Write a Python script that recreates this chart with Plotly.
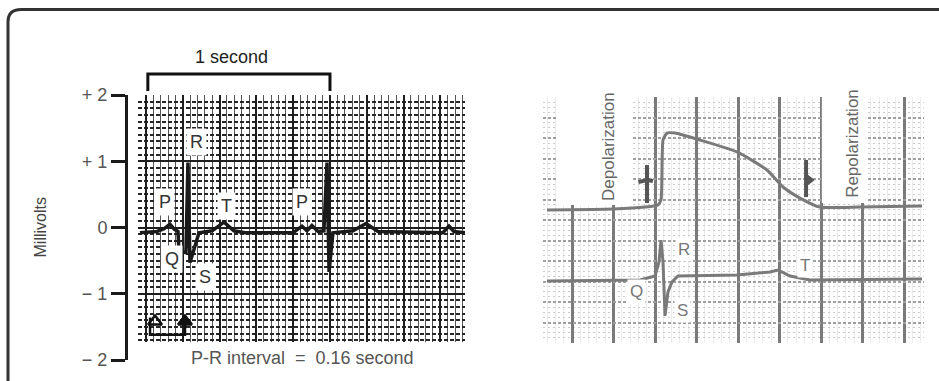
import plotly.graph_objects as go

W, H = 939, 381

# ---------- left panel: ECG strip (time in s, voltage in mV) ----------
ECG_T = [-0.033, 0.060, 0.098, 0.130, 0.152, 0.174, 0.179, 0.217, 0.228, 0.239,
         0.261, 0.288, 0.359, 0.424, 0.478, 0.538, 0.799, 0.848, 0.875, 0.902,
         0.935, 0.967, 0.984, 0.995, 1.016, 1.125, 1.196, 1.261, 1.614, 1.647,
         1.674, 1.734]
ECG_MV = [-0.08, -0.06, -0.02, 0.05, -0.02, -0.06, -0.36, -0.38, 0.98, -0.53,
          -0.33, -0.08, -0.05, 0.08, -0.05, -0.08, -0.08, 0.02, -0.05, 0.03,
          -0.06, -0.05, 0.98, -0.67, -0.08, -0.05, 0.06, -0.06, -0.08, 0.02,
          -0.06, -0.08]

WAVE_LABELS = ["P", "R", "Q", "S", "T", "P"]
WAVE_T = [0.103, 0.277, 0.141, 0.320, 0.435, 0.848]
WAVE_MV = [0.39, 1.29, -0.48, -0.74, 0.33, 0.39]

PR_MARK_T = [0.049, 0.212]
PR_MARK_MV = [-1.42, -1.42]
PR_BRACKET_T = [0.022, 0.022, 0.212, 0.212]
PR_BRACKET_MV = [-1.36, -1.62, -1.62, -1.40]

ONE_SECOND = [0.01, 1.0]

MV_TICKS = [-2, -1, 0, 1, 2]
MV_TICK_TEXT = ["\u2212 2", "\u2212 1", "0", "+ 1", "+ 2"]

# ---------- right panel: action potential over ECG (grid units) ----------
AP_X = [-0.602, 0.988, 1.759, 2.072, 2.145, 2.193, 2.289, 2.482, 3.084, 3.976,
        4.699, 5.084, 5.494, 5.976, 6.940, 8.434]
AP_Y = [6.49, 6.54, 6.63, 6.73, 6.98, 9.90, 10.24, 10.24, 9.90, 9.32,
        8.44, 7.61, 7.07, 6.63, 6.63, 6.68]

RECG_X = [-0.602, 1.639, 2.000, 2.096, 2.145, 2.193, 2.241, 2.313, 2.410, 2.554,
          3.976, 4.771, 4.964, 5.253, 5.735, 8.434]
RECG_Y = [3.02, 3.07, 3.27, 3.95, 5.02, 3.95, 1.32, 2.49, 2.98, 3.27,
          3.32, 3.46, 3.56, 3.27, 3.07, 3.12]

R_LABELS = ["R", "Q", "S", "T"]
R_LABEL_X = [2.70, 1.566, 2.67, 5.61]
R_LABEL_Y = [4.54, 2.49, 1.61, 3.80]

DEPOL_MARK_X = [1.807, 1.807, None, 1.60, 1.807, 1.95]
DEPOL_MARK_Y = [8.68, 6.83, None, 7.85, 7.95, 7.90]
REPOL_MARK_X = [5.64, 5.64, None, 5.64, 5.77, 5.64]
REPOL_MARK_Y = [8.93, 7.12, None, 8.15, 7.95, 7.75]

PHASE_LABELS = ["Depolarization", "Repolarization"]
PHASE_X = [0.867, 6.77]
PHASE_Y = [9.61, 9.76]
PHASE_BLANK_X = [[-0.386, 1.47], [6.02, 7.08]]
PHASE_BLANK_Y = [[6.73, 12.2], [6.83, 12.2]]


def px(x):
    return x / W


def py(y):
    return 1 - y / H


FONT = "Liberation Sans, Arial, sans-serif"

fig = go.Figure()

fig.add_trace(go.Scatter(x=ECG_T, y=ECG_MV, mode="lines",
                         line=dict(color="#1a1a1a", width=3.5),
                         xaxis="x", yaxis="y", hoverinfo="skip"))
fig.add_trace(go.Scatter(x=PR_BRACKET_T, y=PR_BRACKET_MV, mode="lines",
                         line=dict(color="#111", width=2.5),
                         xaxis="x", yaxis="y", hoverinfo="skip"))
fig.add_trace(go.Scatter(x=PR_MARK_T, y=PR_MARK_MV, mode="markers",
                         marker=dict(symbol=["triangle-up-open", "triangle-up"],
                                     size=12, color="#111",
                                     line=dict(color="#111", width=2.5)),
                         xaxis="x", yaxis="y", hoverinfo="skip"))

fig.add_trace(go.Scatter(x=AP_X, y=AP_Y, mode="lines", line_shape="spline",
                         line=dict(color="#7a7a7a", width=3, smoothing=0.5),
                         xaxis="x2", yaxis="y2", hoverinfo="skip"))
fig.add_trace(go.Scatter(x=RECG_X, y=RECG_Y, mode="lines",
                         line=dict(color="#7a7a7a", width=3),
                         xaxis="x2", yaxis="y2", hoverinfo="skip"))
for mx, my in [(DEPOL_MARK_X, DEPOL_MARK_Y), (REPOL_MARK_X, REPOL_MARK_Y)]:
    fig.add_trace(go.Scatter(x=mx, y=my, mode="lines",
                             line=dict(color="#555", width=4),
                             xaxis="x2", yaxis="y2", hoverinfo="skip"))

shapes = [
    # outer rounded frame, running off the right and bottom edges
    dict(type="path", xref="paper", yref="paper",
         path=f"M {px(8)},{py(400)} L {px(8)},{py(22)} Q {px(8)},{py(9.5)} {px(21)},{py(9.5)} L {px(960)},{py(9.5)}",
         line=dict(color="#333", width=3)),
    # blank band under the grid where the P-R caption sits
    dict(type="rect", xref="x", yref="y", x0=-0.1, x1=1.8,
         y0=-2.1, y1=-1.728, fillcolor="white",
         line=dict(width=0), layer="between"),
    # 1 second bracket
    dict(type="path", xref="x", yref="paper",
         path=f"M {ONE_SECOND[0]},{py(91)} L {ONE_SECOND[0]},{py(74)} L {ONE_SECOND[1]},{py(74)} L {ONE_SECOND[1]},{py(91)}",
         line=dict(color="#111", width=3)),
]
for bx, by in zip(PHASE_BLANK_X, PHASE_BLANK_Y):
    shapes.append(dict(type="rect", xref="x2", yref="y2", x0=bx[0], x1=bx[1],
                       y0=by[0], y1=by[1], fillcolor="white",
                       line=dict(width=0), layer="between"))

annotations = []
for lab, t, v in zip(WAVE_LABELS, WAVE_T, WAVE_MV):
    annotations.append(dict(x=t, y=v, xref="x", yref="y", text=lab,
                            showarrow=False, bgcolor="white", borderpad=3,
                            xanchor="center", yanchor="middle",
                            font=dict(size=18, color="#333", family=FONT)))
for lab, x, y in zip(R_LABELS, R_LABEL_X, R_LABEL_Y):
    annotations.append(dict(x=x, y=y, xref="x2", yref="y2", text=lab,
                            showarrow=False, bgcolor="white", borderpad=2,
                            xanchor="center", yanchor="middle",
                            font=dict(size=17, color="#777", family=FONT)))
for lab, x, y in zip(PHASE_LABELS, PHASE_X, PHASE_Y):
    annotations.append(dict(x=x, y=y, xref="x2", yref="y2", text=lab,
                            showarrow=False, textangle=-90,
                            xanchor="center", yanchor="middle",
                            font=dict(size=17, color="#666",
                                      family="Liberation Sans Narrow, Arial Narrow, " + FONT)))
annotations += [
    dict(x=0.467, y=py(57), xref="x", yref="paper", text="1 second",
         showarrow=False, xanchor="center", yanchor="middle",
         font=dict(size=18, color="#222", family=FONT)),
    dict(x=0.848, y=-1.97, xref="x", yref="y",
         text="P-R interval  =  0.16 second", showarrow=False,
         xanchor="center", yanchor="middle",
         font=dict(size=18, color="#555", family=FONT)),
    dict(x=px(40), y=0, xref="paper", yref="y", text="Millivolts",
         showarrow=False, textangle=-90, xanchor="center", yanchor="middle",
         font=dict(size=16, color="#444", family=FONT)),
]

fig.update_layout(
    width=W, height=H,
    margin=dict(l=0, r=0, t=0, b=0, autoexpand=False),
    paper_bgcolor="white", plot_bgcolor="white",
    showlegend=False,
    shapes=shapes, annotations=annotations,
    xaxis=dict(domain=[px(138), px(465)], range=[-0.0435, 1.734],
               anchor="y", tickmode="linear", tick0=0, dtick=0.2,
               showticklabels=False, ticks="", zeroline=False,
               showgrid=True, gridcolor="#1e1e1e", gridwidth=2,
               minor=dict(dtick=0.04, tick0=0, showgrid=True,
                          gridcolor="#555", gridwidth=1)),
    yaxis=dict(domain=[py(360), py(95)], range=[-2, 2],
               anchor="free", position=px(126),
               tickmode="array", tickvals=MV_TICKS, ticktext=MV_TICK_TEXT,
               ticks="outside", ticklen=14, tickwidth=3, tickcolor="#1a1a1a",
               showline=True, linewidth=3, linecolor="#1a1a1a",
               tickfont=dict(size=18, color="#555", family=FONT),
               zeroline=False,
               showgrid=True, gridcolor="#1e1e1e", gridwidth=2,
               minor=dict(dtick=0.1, tick0=0, showgrid=True,
                          gridcolor="#262626", gridwidth=1.5, griddash="4px,2px")),
    xaxis2=dict(domain=[px(543), px(924)], range=[-0.699, 8.482],
                anchor="y2", tickmode="linear", tick0=0, dtick=1,
                showticklabels=False, ticks="", zeroline=False,
                showgrid=True, gridcolor="#7a7a7a", gridwidth=3,
                minor=dict(dtick=0.2, tick0=0, showgrid=True,
                           gridcolor="#ececec", gridwidth=1)),
    yaxis2=dict(domain=[py(343), py(97)], range=[0, 12],
                anchor="x2", tickmode="linear", tick0=0, dtick=1,
                showticklabels=False, ticks="", zeroline=False,
                showgrid=True, gridcolor="#a0a0a0", gridwidth=1.5, griddash="3px,2px",
                minor=dict(dtick=0.25, tick0=0, showgrid=True,
                           gridcolor="#cccccc", gridwidth=1, griddash="2px,3px")),
)

fig.write_html("out.html", config={"displayModeBar": False},
               post_script="document.body.style.margin='0px';document.body.style.overflow='hidden';")
